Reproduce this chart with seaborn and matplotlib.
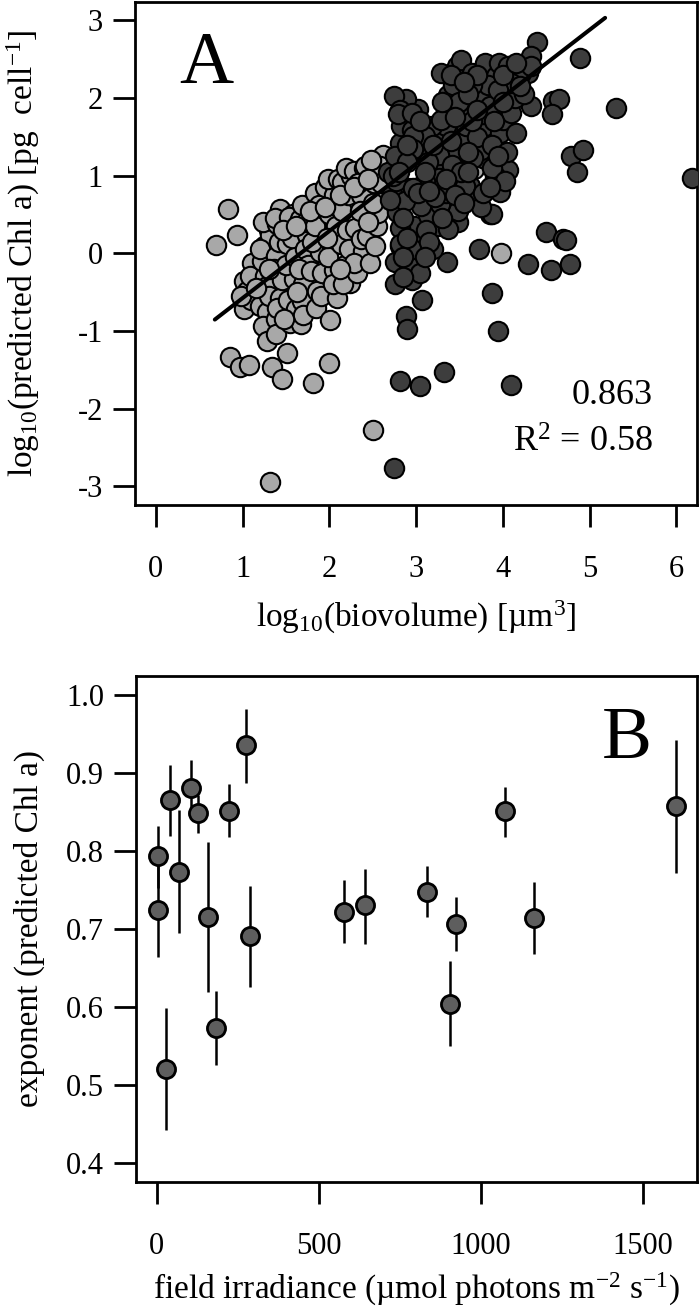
import matplotlib
matplotlib.use("Agg")
import matplotlib.pyplot as plt
import numpy as np
import pandas as pd
import seaborn as sns

# ---- panel A: cell size vs predicted Chl a (log10) ----
light_x = [0.69, 0.83, 0.94, 0.86, 0.97, 1.07, 1.51, 1.34, 1.45, 1.81, 2.00, 2.50, 1.32, 3.98, 3.67,
           1.02, 1.05, 1.02, 1.11, 1.09, 1.10, 0.98,
           1.20, 1.28, 1.23, 1.28, 1.26, 1.28, 1.22, 1.25, 1.30, 1.32, 1.20, 1.30, 1.24,
           1.39, 1.38, 1.39, 1.43, 1.43, 1.40, 1.42, 1.36, 1.45, 1.40, 1.37,
           1.51, 1.59, 1.55, 1.52, 1.55, 1.58, 1.50, 1.60, 1.57, 1.62, 1.53,
           1.67, 1.68, 1.66, 1.74, 1.70, 1.72, 1.68, 1.75, 1.65, 1.73, 1.70,
           1.82, 1.84, 1.86, 1.79, 1.89, 1.93, 1.80, 1.85, 1.88, 1.92, 1.83, 1.90, 1.95,
           2.05, 2.01, 2.09, 2.05, 2.00, 2.03, 2.08, 1.98, 2.10, 2.04, 2.10, 1.98,
           2.15, 2.15, 2.14, 2.24, 2.22, 2.18, 2.20, 2.25, 2.19, 2.23, 2.16,
           2.28, 2.30, 2.37, 2.39, 2.32, 2.28, 2.35, 2.40, 2.33, 2.36, 2.43, 2.41,
           2.47, 2.51, 2.55, 2.56, 2.62, 2.59, 2.64, 2.50, 2.48, 2.53, 2.60, 2.45,
           1.15, 1.30, 1.47, 1.62, 1.78, 1.95, 2.12, 2.28, 2.12, 1.97, 1.63, 1.48, 2.45]
light_y = [0.11, 0.57, 0.23, -1.33, -1.47, -1.44, -1.28, -1.46, -1.62, -1.67, -1.41, -2.28, -2.95, 0.01, 1.08,
           -0.36, -0.48, -0.72, -0.12, -0.29, -0.60, -0.55,
           -0.68, -0.76, -0.93, -1.13, -0.29, -0.42, -0.10, 0.10, 0.30, 0.23, 0.05, -0.55, 0.40,
           -0.85, -1.04, -0.03, -0.57, 0.57, 0.38, 0.15, -0.20, -0.35, -0.70, 0.45,
           0.12, -0.33, -0.90, -0.60, 0.35, 0.50, -0.15, -0.05, 0.20, -0.72, 0.47,
           -0.91, -0.61, 0.44, 0.24, -0.40, 0.05, 0.62, -0.15, -0.20, 0.40, -0.80,
           0.54, 0.77, -0.48, -0.23, 0.02, 0.33, 0.15, -0.70, 0.62, -0.25, 0.35, -0.55, 0.85,
           0.75, -0.86, -0.58, -0.21, 0.50, 0.10, 0.35, 0.95, 0.95, -0.40, 0.60, -0.05,
           0.92, 0.54, 0.12, -0.38, 0.75, -0.15, 0.30, 1.00, 1.10, 0.05, -0.40,
           1.06, 0.32, 0.75, 0.03, -0.25, -0.12, 0.55, 1.10, 0.90, 0.18, 0.22, 1.13,
           -0.12, 0.90, 0.35, 0.52, 1.27, 1.12, 0.74, 0.65, 1.20, 0.10, 0.90, 0.40,
           -0.45, -0.20, 0.30, 0.35, 0.55, 0.60, 0.75, 0.85, -0.20, 0.20, -0.50, -0.85, 0.95]

dark_x = [2.75, 2.81, 3.04, 3.32, 4.10, 3.94, 3.88, 2.88, 2.90, 3.07, 2.76, 2.76, 2.92, 3.36,
          3.73, 4.29, 4.56, 4.77, 4.50, 4.69, 4.73, 4.79, 4.92, 4.85, 6.18, 4.58, 4.65, 4.57,
          5.30, 4.89, 4.39, 4.33, 4.33, 4.29, 4.06, 3.97, 3.85,
          2.81, 3.02, 3.25, 2.98, 2.81, 2.78, 3.14, 3.48, 3.48, 3.28, 3.06, 3.35, 3.62, 3.68,
          3.87, 3.75, 3.91, 3.79, 3.75, 3.47, 3.29, 3.26, 3.10, 2.91, 2.72, 2.87, 2.77, 3.01,
          2.82, 2.83, 3.02, 2.88, 2.75, 2.81, 3.27, 3.47, 3.56, 3.43, 3.58, 3.79, 3.97, 4.00,
          4.10, 4.14, 3.91, 3.75, 3.56, 3.35, 3.37, 3.29, 3.47, 3.52, 3.64, 3.79, 3.92, 3.96,
          4.06, 4.21, 4.33, 4.10, 3.83, 3.64, 3.43, 3.35, 3.18, 3.29, 3.10, 2.95, 3.77, 3.26,
          3.14, 3.41, 2.82, 2.68, 3.56, 3.22, 3.52, 3.66, 3.87, 4.02, 3.77,
          2.79, 2.97, 2.97, 2.76, 2.89, 2.74, 2.97, 2.70, 2.81,
          3.02, 3.37, 3.20, 2.95, 3.12, 2.95, 3.60, 3.70, 3.88, 4.05, 4.15, 4.25, 3.50,
          2.85, 3.05, 3.15, 2.90, 3.10, 2.85,
          3.40, 3.60, 3.70, 3.85, 3.95, 4.00, 3.65, 3.45, 3.30, 3.90, 4.20, 4.15, 3.55, 3.70,
          2.95, 2.90, 3.10, 3.05, 2.80, 3.15, 3.35, 3.45, 3.55, 3.60, 3.85, 3.95, 4.00, 3.20,
          3.40, 2.85, 3.30]
dark_y = [-2.76, -1.65, -1.71, -1.53, -1.70, -1.00, -0.51, -0.81, -0.98, -0.60, -0.40, -0.11, -0.16, -0.11,
          0.05, -0.14, -0.21, -0.14, 0.28, 0.18, 0.17, 1.25, 1.33, 1.05, 0.97, 1.96, 1.99, 1.79,
          1.87, 2.52, 2.72, 2.54, 1.90, 2.32, 1.07, 0.79, 0.51,
          0.09, 0.17, 0.35, 0.35, 0.32, 0.53, 0.49, 0.40, 0.54, 0.63, 0.61, 0.78, 0.86, 0.74,
          0.50, 0.59, 0.99, 1.21, 1.33, 1.08, 1.12, 0.97, 0.93, 0.84, 0.76, 0.67, 0.93, 1.34,
          1.42, 1.64, 1.86, 1.98, 2.02, 1.85, 1.49, 1.53, 1.44, 1.29, 1.64, 1.64, 1.55, 1.72,
          1.81, 2.00, 2.02, 1.98, 1.83, 1.85, 2.04, 2.32, 2.41, 2.49, 2.32, 2.45, 2.28, 2.45,
          2.41, 2.32, 2.41, 2.19, 2.17, 2.17, 2.17, 1.64, 1.64, 1.72, 1.51, 1.59, 1.79, 1.27,
          1.18, 1.14, 1.21, 1.04, 0.87, 0.72, 1.04, 1.23, 1.10, 0.93, 0.78,
          1.79, 1.51, 1.34, 1.25, 1.17, 0.99, 0.84, 0.69, 0.12,
          0.78, 0.31, 0.05, -0.35, 0.30, 0.05, 1.05, 1.50, 1.40, 1.30, 1.55, 2.05, 1.95,
          -0.05, -0.25, 0.15, 0.20, -0.05, -0.30,
          2.30, 2.05, 2.30, 1.90, 2.10, 2.30, 1.70, 1.75, 1.95, 1.70, 2.15, 2.45, 2.20, 1.85,
          1.80, 1.40, 1.05, 1.70, 1.05, 0.80, 0.95, 0.75, 0.65, 1.30, 0.85, 1.25, 1.95, 1.40,
          1.45, 0.45, 0.45]

slope = 0.863
intercept = -1.44
fit_range = [0.68, 5.18]
r_squared = 0.58

# ---- panel B: exponent vs field irradiance ----
irradiance = [4, 4, 41, 70, 105, 128, 157, 224, 275, 287, 577, 644, 833, 925, 1076, 1166, 1604, 28, 182, 905]
exponent = [0.793, 0.724, 0.865, 0.773, 0.880, 0.848, 0.715, 0.851, 0.935, 0.691,
            0.721, 0.730, 0.747, 0.706, 0.851, 0.714, 0.857, 0.520, 0.573, 0.604]
exp_lo = [0.752, 0.664, 0.819, 0.695, 0.845, 0.823, 0.619, 0.818, 0.887, 0.626,
          0.682, 0.681, 0.715, 0.671, 0.818, 0.668, 0.771, 0.442, 0.526, 0.550]
exp_hi = [0.832, 0.784, 0.910, 0.852, 0.916, 0.872, 0.811, 0.885, 0.982, 0.755,
          0.762, 0.777, 0.780, 0.741, 0.882, 0.760, 0.942, 0.598, 0.620, 0.659]

sns.set_style("ticks")
plt.rcParams["font.family"] = ["Liberation Serif", "DejaVu Serif"]
plt.rcParams["mathtext.fontset"] = "custom"
plt.rcParams["mathtext.rm"] = "Liberation Serif"
plt.rcParams["mathtext.it"] = "Liberation Serif:italic"
plt.rcParams["axes.unicode_minus"] = False
for key in ["text.color", "axes.labelcolor", "xtick.color", "ytick.color", "axes.edgecolor"]:
    plt.rcParams[key] = "black"

TICK = 22
LAB = 24

fig = plt.figure(figsize=(7, 13.09), dpi=100)
axA = fig.add_axes([0.1929, 0.6142, 0.8029, 0.3846])
axB = fig.add_axes([0.1943, 0.0973, 0.8014, 0.3863])


def style_axes(ax):
    for sp in ax.spines.values():
        sp.set_visible(True)
        sp.set_linewidth(2.0)
        sp.set_color("black")
    ax.tick_params(direction="out", length=16, width=2.0, labelsize=TICK, color="black",
                   bottom=True, left=True, top=False, right=False)
    ax.tick_params(axis="x", pad=20)
    ax.tick_params(axis="y", pad=7)


# panel A
sns.scatterplot(x=light_x, y=light_y, color="#a8a8a8", edgecolor="black", linewidth=1.5,
                s=195, ax=axA, zorder=2, legend=False)
sns.scatterplot(x=dark_x, y=dark_y, color="#3d3d3d", edgecolor="black", linewidth=1.5,
                s=195, ax=axA, zorder=3, legend=False)
fx = np.array(fit_range)
axA.plot(fx, intercept + slope * fx, color="black", lw=2.9, zorder=4, solid_capstyle="round")
axA.set_xlim(-0.24, 6.24)
axA.set_ylim(-3.24, 3.24)
axA.set_xticks(range(0, 7))
axA.set_yticks(range(-3, 4))
style_axes(axA)
axA.set_xlabel("log$_{10}$(biovolume) [µm$^{3}$]", fontsize=LAB)
axA.set_ylabel("log$_{10}$(predicted Chl a) [pg  cell$^{-1}$]", fontsize=LAB)
axA.xaxis.set_label_coords(0.5, -0.187)
axA.yaxis.set_label_coords(-0.165, 0.5)
axA.text(0.126, 0.838, "A", transform=axA.transAxes, fontsize=54, ha="center", va="baseline")
axA.text(0.922, 0.2006, f"{slope:.3f}", transform=axA.transAxes, fontsize=26, ha="right", va="baseline")
axA.text(0.922, 0.1053, f"R$^{{2}}$ = {r_squared:.2f}", transform=axA.transAxes, fontsize=26,
         ha="right", va="baseline")

# panel B
axB.vlines(irradiance, exp_lo, exp_hi, color="black", lw=1.8, zorder=2)
sns.scatterplot(x=irradiance, y=exponent, color="#5e5e5e", edgecolor="black", linewidth=2.0,
                s=170, ax=axB, zorder=3, legend=False)
axB.set_xlim(-64, 1668)
axB.set_ylim(0.376, 1.024)
axB.set_xticks([0, 500, 1000, 1500])
axB.set_yticks([0.4, 0.5, 0.6, 0.7, 0.8, 0.9, 1.0])
axB.set_yticklabels([f"{v:.1f}" for v in [0.4, 0.5, 0.6, 0.7, 0.8, 0.9, 1.0]])
style_axes(axB)
axB.set_xlabel("field irradiance (µmol photons m$^{-2}$ s$^{-1}$)", fontsize=LAB)
axB.set_ylabel("exponent (predicted Chl a)", fontsize=LAB)
axB.xaxis.set_label_coords(0.5, -0.176)
axB.yaxis.set_label_coords(-0.163, 0.5)
axB.text(0.875, 0.838, "B", transform=axB.transAxes, fontsize=54, ha="center", va="baseline")

fig.savefig("out.png", dpi=100)
